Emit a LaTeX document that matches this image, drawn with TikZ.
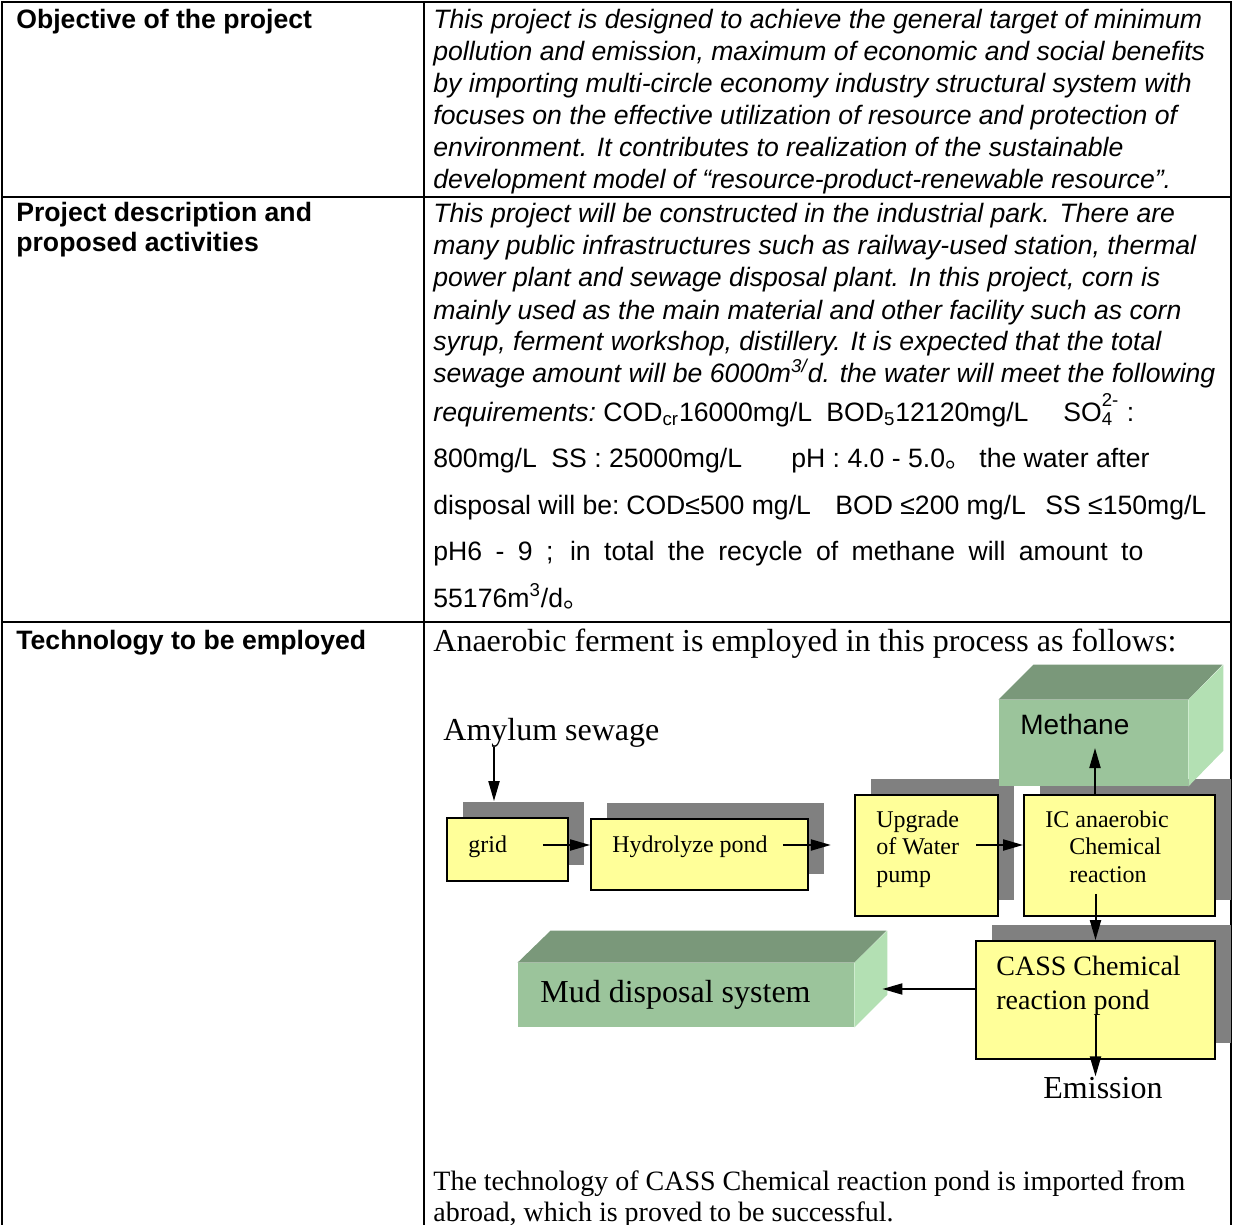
\documentclass[tikz,border=0pt]{standalone}
\usepackage{fontspec}
\setmainfont{Liberation Serif}
\newfontfamily\arial{Liberation Sans}
\newfontfamily\cjk{Noto Sans CJK SC}
\usetikzlibrary{arrows.meta, shadows}
\definecolor{boxyellow}{RGB}{255,255,153}
\definecolor{shadowgray}{RGB}{128,128,128}
\definecolor{slabfront}{RGB}{155,196,155}
\definecolor{slabtop}{RGB}{122,152,122}
\definecolor{slabside}{RGB}{179,224,179}
\newcommand{\seg}[2]{\makebox[#1][l]{#2}}
\newcommand{\cnstop}{{\cjk 。}}
\tikzset{
  rule/.style={line width=1pt},
  cell/.style={anchor=base west,inner sep=0pt,align=left,font=\arial\itshape\fontsize{13.3}{16}\selectfont},
  head/.style={anchor=base west,inner sep=0pt,align=left,font=\arial\bfseries\fontsize{13.3}{15}\selectfont},
  prose/.style={anchor=base west,inner sep=0pt,align=left,font=\fontsize{14}{15.5}\selectfont},
  big/.style={anchor=base west,inner sep=0pt,font=\fontsize{16}{19}\selectfont},
  procbox/.style={rectangle,draw,line width=0.9pt,fill=boxyellow,
    general shadow={fill=shadowgray,shadow xshift=8pt,shadow yshift=8pt}},
  boxtext/.style={anchor=base west,inner sep=0pt,align=left,font=\fontsize{12}{13.75}\selectfont},
  slab/.style={rectangle,fill=slabfront,inner sep=0pt},
  line/.style={-{Triangle[length=10pt,width=5.5pt]},line width=1pt}
}
\begin{document}
\begin{tikzpicture}[x=0.5pt,y=-0.5pt]
\useasboundingbox (0,0) rectangle (1233,1225);
\draw[rule] (2,1225) -- (2,2) -- (1231,2) -- (1231,1225);
\draw[rule] (424,2) -- (424,1225);
\draw[rule] (2,197) -- (1231,197);
\draw[rule] (2,622) -- (1231,622);

\node[head] (obj) at (16,29) {Objective of the project};
\node[head] (desc) at (16,252) {Project description and\\proposed activities};
\node[head] (tech) at (16,649) {Technology to be employed};

\node[cell] (objtxt) at (433,189) {This project is designed to achieve the general target of minimum\\
pollution and emission, maximum of economic and social benefits\\
by importing multi-circle economy industry structural system with\\
focuses on the effective utilization of resource and protection of\\
environment. It contributes to realization of the sustainable\\
development model of “resource-product-renewable resource”.};
\node[cell] (desctxt) at (433,383) {This project will be constructed in the industrial park. There are\\
many public infrastructures such as railway-used station, thermal\\
power plant and sewage disposal plant. In this project, corn is\\
mainly used as the main material and other facility such as corn\\
syrup, ferment workshop, distillery. It is expected that the total\\
sewage amount will be 6000m\textsuperscript{3/}d. the water will meet the following};
\node[cell,font=\arial\fontsize{13.3}{23.2}\selectfont] (specs) at (433,607) {%
\seg{85pt}{\itshape requirements:}\seg{111.5pt}{COD\textsubscript{cr}16000mg/L}\seg{118.5pt}{BOD\textsubscript{5}12120mg/L}SO\rlap{\textsubscript{4}}\raisebox{2pt}{\textsuperscript{2-}}\ :\\
\seg{59pt}{800mg/L}\seg{120pt}{SS : 25000mg/L}\seg{94pt}{pH : 4.0 - 5.0\cnstop}the water after\\
\seg{96.5pt}{disposal will be:}\seg{104.5pt}{COD≤500 mg/L}\seg{105pt}{BOD ≤200 mg/L}SS ≤150mg/L\\
\makebox[355pt][s]{pH6 - 9 ; in total the recycle of methane will amount to}\\
55176m\textsuperscript{3}/d\cnstop};

\node[big] (intro) at (433,651) {Anaerobic ferment is employed in this process as follows:};
\node[big] (amylum) at (443,740) {Amylum sewage};

\node[procbox,minimum width=60.5pt,minimum height=31.5pt] (grid) at (507.5,849.5) {};
\node[procbox,minimum width=108.5pt,minimum height=35.5pt] (hydro) at (699.5,854.5) {};
\node[procbox,minimum width=71.5pt,minimum height=60.5pt] (pump) at (926.5,855.5) {};
\node[procbox,minimum width=95.5pt,minimum height=60.5pt] (ic) at (1119.5,855.5) {};
\node[procbox,minimum width=119.5pt,minimum height=59pt] (cass) at (1095.5,1000) {};

\node[slab,minimum width=94.5pt,minimum height=43pt] (methane) at (1093.5,743) {};
\fill[slabtop] (methane.north west) -- ++(35,-35) -- ++(189,0) -- (methane.north east) -- cycle;
\fill[slabside] (methane.north east) -- ++(35,-35) -- ++(0,86) -- (methane.south east) -- cycle;
\node[slab,minimum width=168pt,minimum height=32pt] (mud) at (686,995) {};
\fill[slabtop] (mud.north west) -- ++(33,-32) -- ++(336,0) -- (mud.north east) -- cycle;
\fill[slabside] (mud.north east) -- ++(33,-32) -- ++(0,64) -- (mud.south east) -- cycle;

\node[boxtext] (gridlbl) at (468,852) {grid};
\node[boxtext] (hydrolbl) at (612,852) {Hydrolyze pond};
\node[boxtext] (pumplbl) at (876,882) {Upgrade\\of Water\\pump};
\node[boxtext] (iclbl) at (1045,882) {IC anaerobic\\\hspace*{12pt}Chemical\\\hspace*{12pt}reaction};
\node[boxtext,font=\fontsize{14}{17}\selectfont] (casslbl) at (996,1009) {CASS Chemical\\reaction pond};
\node[anchor=base west,inner sep=0pt,font=\arial\fontsize{14}{16}\selectfont] (methanelbl) at (1020,734) {Methane};
\node[big] (mudlbl) at (540,1002) {Mud disposal system};
\node[big] (emission) at (1043,1098) {Emission};

\coordinate (feed) at ([xshift=-6.75pt,yshift=8pt]grid.north);
\draw[line] (amylum.south -| feed) -- (feed);
\draw[line] ([xshift=-13pt,yshift=2.25pt]grid.east) -- ([yshift=2.25pt]grid.east -| hydro.west);
\coordinate (hp) at ([xshift=11pt,yshift=4.75pt]hydro.east);
\draw[line] ([xshift=-13pt,yshift=4.75pt]hydro.east) -- (hp);
\draw[line] ([xshift=-11.5pt,yshift=5.25pt]pump.east) -- ([yshift=5.25pt]pump.east -| ic.west);
\draw[line] ([xshift=-12.25pt]ic.north) -- ([xshift=-12.25pt,yshift=-2.5pt]ic.north |- methane.center);
\draw[line] ([yshift=11.5pt]ic.south -| cass.north) -- (cass.north);
\coordinate (mudside) at ([xshift=14pt,yshift=3pt]mud.east);
\draw[line] ([yshift=5.5pt]cass.west) -- (mudside);
\draw[line] ([yshift=-7.5pt]cass.center) -- (cass.center |- emission.north);

\node[prose] (note) at (433,1221) {The technology of CASS Chemical reaction pond is imported from\\abroad, which is proved to be successful.};
\end{tikzpicture}
\end{document}
